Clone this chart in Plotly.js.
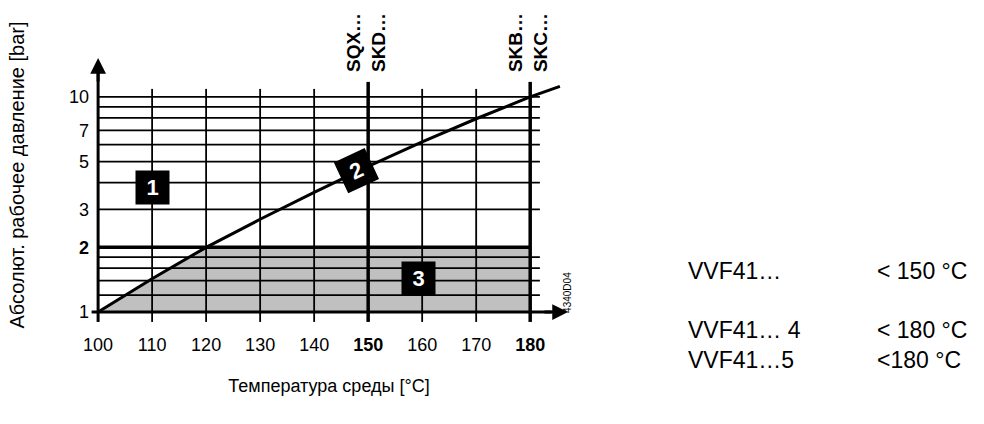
<!DOCTYPE html>
<html>
<head>
<meta charset="utf-8">
<script src="https://cdn.plot.ly/plotly-3.0.1.min.js"></script>
<style>html,body{margin:0;padding:0;background:#fff;}#chart{width:984px;height:424px;}</style>
</head>
<body>
<div id="chart"></div>
<script>
// Saturation curve: temperature [°C] vs absolute pressure [bar]
const curveTemp = [100, 110, 120, 130, 140, 150, 160, 170, 180, 185.5];
const curvePressure = [1.0, 1.43, 2.0, 2.7, 3.6, 4.76, 6.18, 7.92, 10.0, 11.2];

// Shaded region 3 (below 2 bar, up to 180 °C)
const regionLimitP = 2;
const regionLimitT = 180;

// Axis ticks
const xTickVals = [100, 110, 120, 130, 140, 150, 160, 170, 180];
const xTickText = ['100', '110', '120', '130', '140', '<b>150</b>', '160', '170', '<b>180</b>'];
const yTickVals = [1, 2, 3, 5, 7, 10];
const yTickText = ['1', '<b>2</b>', '3', '5', '7', '10'];

// Grid
const hGridThin = [1.2, 1.4, 1.6, 1.8, 3, 4, 5, 6, 7, 8, 9, 10];
const hGridThick = [2];
const vGridThin = [110, 120, 130, 140, 160, 170];
const vGridThick = [150, 180];

// Labels
const zoneLabels = ['1', '2', '3'];
const zoneT = [110.1, 147.9, 159.3];
const zoneP = [3.8, 4.54, 1.44];
const zoneAngle = [0, -25, 0];
const topLabels = ['SQX…<br>SKD…', 'SKB…<br>SKC…'];
const topLabelT = [149.7, 179.7];
const sideModels = ['VVF41…', 'VVF41… 4', 'VVF41…5'];
const sideLimits = ['< 150 °C', '< 180 °C', '<180 °C'];
const sideY = [0.18, -0.0167, -0.1167];

const FONT = 'Liberation Sans, Arial, sans-serif';
const Y_ARROW_TOP = 1.181; // log10 of the y-axis arrow tip

// fill polygon
const fillX = [], fillY = [];
for (let i = 0; i < curveTemp.length; i++) {
  if (curveTemp[i] <= 120) { fillX.push(curveTemp[i]); fillY.push(Math.min(curvePressure[i], regionLimitP)); }
}
fillX.push(regionLimitT, regionLimitT, curveTemp[0]);
fillY.push(regionLimitP, 1, 1);

const traces = [
  {x: fillX, y: fillY, type: 'scatter', mode: 'lines', fill: 'toself', fillcolor: '#c0c0c0',
   line: {width: 0}, hoverinfo: 'skip', showlegend: false},
  {x: curveTemp, y: curvePressure, type: 'scatter', mode: 'lines',
   line: {color: '#000', width: 3}, showlegend: false}
];

const shapes = [];
hGridThin.forEach(v => shapes.push({type: 'line', xref: 'x', yref: 'y', x0: 100, x1: 181.8, y0: v, y1: v, line: {color: '#000', width: 1.8}}));
hGridThick.forEach(v => shapes.push({type: 'line', xref: 'x', yref: 'y', x0: 100, x1: 180, y0: v, y1: v, line: {color: '#000', width: 3.5}}));
vGridThin.forEach(v => shapes.push({type: 'line', xref: 'x', yref: 'y', x0: v, x1: v, y0: 0.9, y1: 10.9, line: {color: '#000', width: 1.8}}));
vGridThick.forEach(v => shapes.push({type: 'line', xref: 'x', yref: 'y', x0: v, x1: v, y0: 0.9, y1: 11.75, line: {color: '#000', width: 3.5}}));
// axes
shapes.push({type: 'line', xref: 'x', yref: 'y', x0: 98.8, x1: 184, y0: 1, y1: 1, line: {color: '#000', width: 3}});
shapes.push({type: 'line', xref: 'x', yref: 'y', x0: 100, x1: 100, y0: 0.9, y1: 13.5, line: {color: '#000', width: 3}});

const annotations = [];
// arrow heads
annotations.push({x: 187, y: 0, xref: 'x', yref: 'y', ax: -25, ay: 0, showarrow: true, arrowhead: 2, arrowsize: 1.05, arrowwidth: 3, arrowcolor: '#000', text: ''});
annotations.push({x: 100, y: Y_ARROW_TOP, xref: 'x', yref: 'y', ax: 0, ay: 25, showarrow: true, arrowhead: 2, arrowsize: 1.05, arrowwidth: 3, arrowcolor: '#000', text: ''});
zoneLabels.forEach((t, i) => annotations.push({
  x: zoneT[i], y: Math.log10(zoneP[i]), xref: 'x', yref: 'y', text: '<b>' + t + '</b>', showarrow: false,
  textangle: zoneAngle[i], bgcolor: '#000', width: 33, height: 33, borderpad: 0,
  font: {family: FONT, size: 22, color: '#fff'}
}));
topLabels.forEach((t, i) => annotations.push({
  x: topLabelT[i], y: 0.9417, xref: 'x', yref: 'paper', text: '<b>' + t + '</b>', showarrow: false,
  textangle: -90, xanchor: 'center', yanchor: 'middle', font: {family: FONT, size: 19, color: '#000'}
}));
sideModels.forEach((t, i) => {
  annotations.push({x: 1.247, y: sideY[i], xref: 'paper', yref: 'paper', text: t, showarrow: false,
    xanchor: 'left', yanchor: 'middle', font: {family: FONT, size: 23, color: '#000'}});
  annotations.push({x: 1.642, y: sideY[i], xref: 'paper', yref: 'paper', text: sideLimits[i], showarrow: false,
    xanchor: 'left', yanchor: 'middle', font: {family: FONT, size: 23, color: '#000'}});
});
annotations.push({x: 1.0, y: 0.107, xref: 'paper', yref: 'paper', text: '4340D04', showarrow: false,
  textangle: -90, xanchor: 'center', yanchor: 'middle', font: {family: FONT, size: 10, color: '#000'}});

const layout = {
  width: 984, height: 424,
  margin: {l: 90, r: 416, t: 25, b: 99},
  paper_bgcolor: '#fff', plot_bgcolor: '#fff',
  showlegend: false,
  font: {family: FONT, color: '#000'},
  xaxis: {
    range: [98.5, 187], showgrid: false, zeroline: false, showline: false,
    tickvals: xTickVals, ticktext: xTickText, ticks: 'outside', ticklen: 3, tickcolor: 'rgba(0,0,0,0)',
    tickfont: {family: FONT, size: 18, color: '#000'},
    title: {text: 'Температура среды [°C]', font: {family: FONT, size: 18, color: '#000'}, standoff: 25}
  },
  yaxis: {
    type: 'log', range: [-0.06, 1.3345], showgrid: false, zeroline: false, showline: false,
    tickvals: yTickVals, ticktext: yTickText, ticks: '',
    tickfont: {family: FONT, size: 18, color: '#000'},
    title: {text: 'Абсолют. рабочее давление [bar]', font: {family: FONT, size: 20, color: '#000'}, standoff: 38}
  },
  shapes: shapes,
  annotations: annotations
};

Plotly.newPlot('chart', traces, layout, {displayModeBar: false, staticPlot: true});
</script>
</body>
</html>
